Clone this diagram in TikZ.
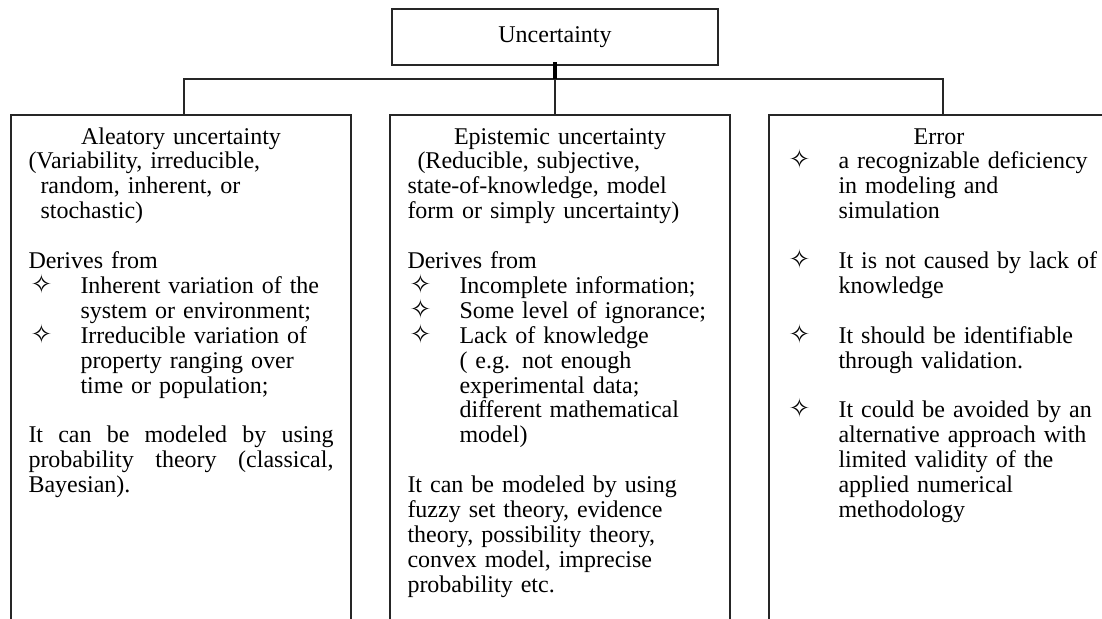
\documentclass[tikz,border=0pt]{standalone}
\usepackage{fontspec}
\setmainfont{Liberation Serif}
\newfontfamily\starfont{DejaVu Sans}
\usetikzlibrary{positioning}

\newlength{\colw}\setlength{\colw}{152.5pt}
\newcommand{\bulstar}{\makebox[26pt][l]{\hspace{1pt}{\starfont\fontsize{13}{13}\selectfont ✧}}}
\newcommand{\bulind}{\hspace*{26pt}}
\newcommand{\emptyline}{\\[12.45pt]}
\newcommand{\fullline}[1]{\leavevmode\hbox to\colw{#1}}

\begin{document}
\begin{tikzpicture}[
   x=0.5pt,y=-0.5pt,
   every node/.style={font=\fontsize{12}{12.45}\selectfont},
   topbox/.style={draw=black!85,line width=0.9pt,minimum width=163pt,minimum height=28.2pt,inner sep=0pt},
   colbox/.style={draw=black!85,line width=0.9pt,minimum width=170pt,minimum height=265pt,inner sep=0pt},
   coltext/.style={anchor=base west,align=left,text width=175pt,inner sep=0pt},
   conn/.style={draw=black!85,line width=0.9pt},
   stub/.style={draw=black,line width=2.3pt}]
\clip (0,0) rectangle (1102,619);
\node[topbox] (unc) at (555,37) {Uncertainty};
\node[colbox] (ale) at (181,380) {};
\node[colbox] (epi) at (560,380) {};
\node[colbox] (err) at (939,380) {};
\coordinate (bus) at (553,79);
% tree links
\draw[conn] ([xshift=1.5pt]ale.north) -- ([xshift=1.5pt]ale.north |- bus) -- ([xshift=2pt]err.north |- bus) -- ([xshift=2pt]err.north);
\draw[conn] (unc.south) -- (unc.south |- epi.north);
\draw[stub] ([yshift=2pt]unc.south) -- (unc.south |- bus);
% column texts
\node[coltext] (aletext) at ([xshift=9pt,yshift=-15pt]ale.north west) {%
\makebox[\colw]{Aleatory uncertainty}\\
(Variability, irreducible,\\
\hspace*{6pt}random, inherent, or\\
\hspace*{6pt}stochastic)\emptyline
Derives from\\
\bulstar Inherent variation of the\\
\bulind system or environment;\\
\bulstar Irreducible variation of\\
\bulind property ranging over\\
\bulind time or population;\emptyline
\fullline{It\hfill can\hfill be\hfill modeled\hfill by\hfill using}\\
\fullline{probability\hfill theory\hfill (classical,}\\
Bayesian).};
\node[coltext] (epitext) at ([xshift=9pt,yshift=-15pt]epi.north west) {%
\makebox[\colw]{Epistemic uncertainty}\\
\hspace*{5pt}(Reducible, subjective,\\
state-of-knowledge, model\\
form or simply uncertainty)\emptyline
Derives from\\
\bulstar Incomplete information;\\
\bulstar Some level of ignorance;\\
\bulstar Lack of knowledge\\
\bulind ( e.g. not enough\\
\bulind experimental data;\\
\bulind different mathematical\\
\bulind model)\emptyline
It can be modeled by using\\
fuzzy set theory, evidence\\
theory, possibility theory,\\
convex model, imprecise\\
probability etc.};
\node[coltext] (errtext) at ([xshift=9pt,yshift=-15pt]err.north west) {%
\makebox[\colw]{Error}\\
\bulstar a recognizable deficiency\\
\bulind in modeling and\\
\bulind simulation\emptyline
\bulstar It is not caused by lack of\\
\bulind knowledge\emptyline
\bulstar It should be identifiable\\
\bulind through validation.\emptyline
\bulstar It could be avoided by an\\
\bulind alternative approach with\\
\bulind limited validity of the\\
\bulind applied numerical\\
\bulind methodology};
\end{tikzpicture}
\end{document}
